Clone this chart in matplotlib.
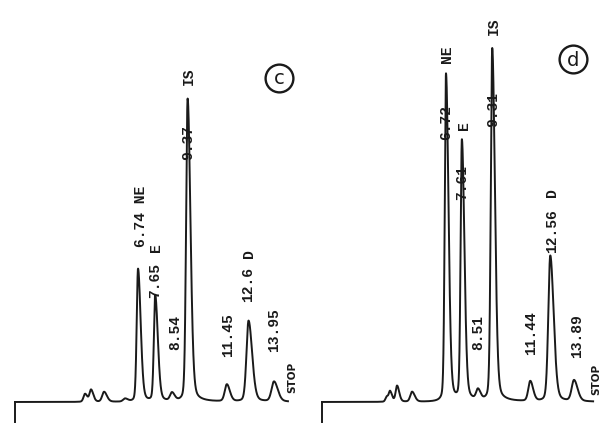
import numpy as np
import matplotlib
matplotlib.use("Agg")
import matplotlib.pyplot as plt

# ---------------- data: panel (c) ----------------
c_rt      = [3.93, 4.25, 4.94, 6.05, 6.74, 7.65, 8.54, 9.37, 11.45, 12.60, 13.95]
c_height  = [8, 12, 10, 3, 133, 106, 8, 303, 17, 81, 20]
c_sig_l   = [0.08, 0.08, 0.10, 0.10, 0.07, 0.07, 0.10, 0.08, 0.11, 0.11, 0.13]
c_sig_r   = [0.12, 0.12, 0.15, 0.15, 0.14, 0.14, 0.14, 0.15, 0.16, 0.19, 0.20]
c_start, c_stop = 0.22, 14.69

# ---------------- data: panel (d) ----------------
d_rt      = [3.40, 3.59, 3.98, 4.82, 6.72, 7.61, 8.51, 9.31, 11.44, 12.56, 13.89]
d_height  = [5, 10, 16, 10, 328, 260, 10, 353, 20, 146, 21]
d_sig_l   = [0.07, 0.07, 0.08, 0.10, 0.07, 0.07, 0.10, 0.08, 0.11, 0.11, 0.13]
d_sig_r   = [0.10, 0.11, 0.12, 0.15, 0.14, 0.14, 0.14, 0.15, 0.16, 0.19, 0.20]
d_start, d_stop = -0.22, 14.96

# label texts
c_labels = ["6.74 NE", "E", "7.65", "8.54", "IS", "9.37", "11.45", "12.6", "D", "13.95", "STOP"]
d_labels = ["NE", "6.72", "E", "7.61", "8.51", "IS", "9.31", "11.44", "12.56", "D", "13.89", "STOP"]

# ---------------- layout (positions/styles) ----------------
# (anchor time, label bottom y, x offset px)
c_label_pos = [(6.74, 156, 2.5), (7.65, 151, 1), (7.65, 105, 0), (8.54, 53, 3),
               (9.37, 318, 1.5), (9.37, 243, 0.5), (11.45, 46, 1), (12.60, 101, 0),
               (12.60, 145, 0), (13.95, 51, 0), (c_stop, 10, 4)]
d_label_pos = [(6.72, 340, 1), (6.72, 263, 0), (7.61, 273, 2), (7.61, 203, 0),
               (8.51, 53, 0), (9.31, 368, 2), (9.31, 276, 1), (11.44, 48, 1),
               (12.56, 150, 2), (12.56, 206, 2), (13.89, 45, 3), (d_stop, 8, 3)]


def trace(t, rt, h, sl, sr):
    y = np.zeros_like(t)
    for r, hh, a, b in zip(rt, h, sl, sr):
        s = np.where(t < r, a, b)
        z = (t - r) / s
        y += hh * (0.78 * np.exp(-0.5 * z ** 2) + 0.22 / (1 + (z / 1.2) ** 2))
    return y


fig = plt.figure(figsize=(6.14, 4.27), dpi=100)
fig.patch.set_facecolor("white")

panels = [
    dict(rect=[0.0, 0.0, 0.5, 1.0], xlim=(-0.578, 15.70), rt=c_rt, h=c_height,
         sl=c_sig_l, sr=c_sig_r, start=c_start, stop=c_stop, labels=c_labels,
         lpos=c_label_pos, tag="c", tagpos=(14.22, 324)),
    dict(rect=[0.5, 0.0, 0.5, 1.0], xlim=(-1.064, 16.13), rt=d_rt, h=d_height,
         sl=d_sig_l, sr=d_sig_r, start=d_start, stop=d_stop, labels=d_labels,
         lpos=d_label_pos, tag="d", tagpos=(13.84, 343)),
]

ink = "#1a1a1a"
for p in panels:
    ax = fig.add_axes(p["rect"])
    ax.set_xlim(*p["xlim"])
    ax.set_ylim(-24, 403)
    ax.axis("off")
    t = np.linspace(p["start"], p["stop"], 4000)
    y = trace(t, p["rt"], p["h"], p["sl"], p["sr"])
    ax.plot(t, y, color=ink, lw=1.4, solid_joinstyle="round")
    ax.plot([p["start"], p["start"]], [0, -20], color=ink, lw=1.4)
    for txt, (tx, yb, dx) in zip(p["labels"], p["lpos"]):
        if txt == "STOP":
            kw = dict(family="DejaVu Sans", fontweight="bold", fontsize=7.5)
        else:
            kw = dict(family="Liberation Mono", fontweight="bold", fontsize=10.5)
        ax.annotate(txt, xy=(tx, yb), xytext=(dx, 0), textcoords="offset pixels",
                    rotation=90, ha="center", va="bottom", color=ink, **kw)
    cx, cy = p["tagpos"]
    ax.plot([cx], [cy], marker="o", markersize=20, markerfacecolor="none",
            markeredgecolor=ink, markeredgewidth=1.7)
    ax.text(cx, cy, p["tag"], ha="center", va="center", fontsize=14,
            family="DejaVu Sans", color=ink)

fig.savefig("out.png", dpi=100, facecolor="white")
